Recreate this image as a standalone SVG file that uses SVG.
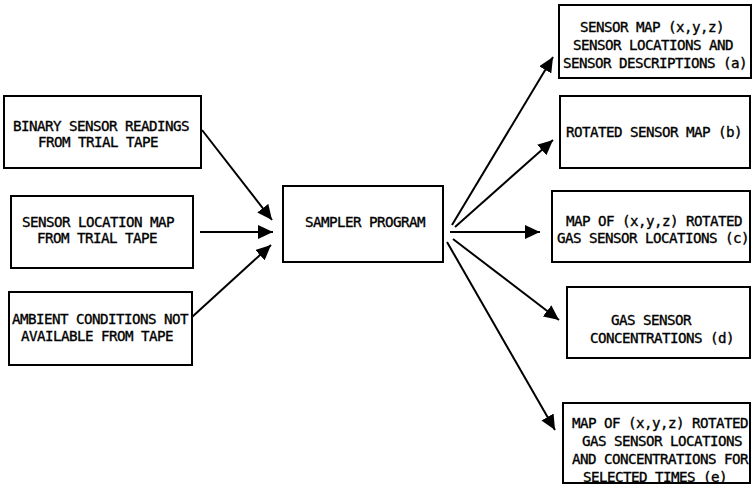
<svg xmlns="http://www.w3.org/2000/svg" width="752" height="485" viewBox="0 0 752 485">
<style>
.box{fill:#fff;stroke:#000;stroke-width:2}
.t{font-family:"DejaVu Sans Mono","Liberation Mono",monospace;font-size:14.2px;letter-spacing:-0.55px;fill:#000;stroke:#000;stroke-width:0.35;text-anchor:middle}
.c{stroke:#000;stroke-width:2;fill:none;marker-end:url(#ah)}
</style>
<defs>
<marker id="ah" markerUnits="userSpaceOnUse" markerWidth="16" markerHeight="14" refX="15" refY="7" orient="auto">
<path d="M0,0 L15,7 L0,14 Z" fill="#000"/>
</marker>
</defs>
<rect width="752" height="485" fill="#fff"/>
<g id="n-binary">
<rect class="box" x="4" y="96" width="197" height="72"/>
<text class="t" x="101" y="131">BINARY SENSOR READINGS</text>
<text class="t" x="98" y="147">FROM TRIAL TAPE</text>
</g>
<g id="n-location">
<rect class="box" x="11" y="196" width="182" height="72"/>
<text class="t" x="98" y="227">SENSOR LOCATION MAP</text>
<text class="t" x="97" y="243">FROM TRIAL TAPE</text>
</g>
<g id="n-ambient">
<rect class="box" x="9" y="292" width="183" height="73"/>
<text class="t" x="100" y="324">AMBIENT CONDITIONS NOT</text>
<text class="t" x="97" y="341">AVAILABLE FROM TAPE</text>
</g>
<g id="n-sampler">
<rect class="box" x="283" y="186" width="160" height="76"/>
<text class="t" x="365" y="227">SAMPLER PROGRAM</text>
</g>
<g id="n-a">
<rect class="box" x="559" y="5" width="192" height="73"/>
<text class="t" x="652" y="32">SENSOR MAP (x,y,z)</text>
<text class="t" x="653" y="50">SENSOR LOCATIONS AND</text>
<text class="t" x="655" y="68">SENSOR DESCRIPTIONS (a)</text>
</g>
<g id="n-b">
<rect class="box" x="560" y="96" width="190" height="72"/>
<text class="t" x="654" y="137">ROTATED SENSOR MAP (b)</text>
</g>
<g id="n-c">
<rect class="box" x="552" y="191" width="198" height="71"/>
<text class="t" x="654" y="226">MAP OF (x,y,z) ROTATED</text>
<text class="t" x="653" y="243">GAS SENSOR LOCATIONS (c)</text>
</g>
<g id="n-d">
<rect class="box" x="567" y="287" width="183" height="71"/>
<text class="t" x="651" y="325">GAS SENSOR</text>
<text class="t" x="662" y="343">CONCENTRATIONS (d)</text>
</g>
<g id="n-e">
<rect class="box" x="563" y="403" width="187" height="80"/>
<text class="t" x="660" y="428">MAP OF (x,y,z) ROTATED</text>
<text class="t" x="662" y="446">GAS SENSOR LOCATIONS</text>
<text class="t" x="660" y="464">AND CONCENTRATIONS FOR</text>
<text class="t" x="655" y="482">SELECTED TIMES (e)</text>
</g>
<g id="connectors">
<line class="c" x1="202" y1="130" x2="272" y2="220"/>
<line class="c" x1="200" y1="232" x2="273" y2="232"/>
<line class="c" x1="192" y1="317" x2="271" y2="245"/>
<line class="c" x1="452" y1="225" x2="553" y2="57"/>
<line class="c" x1="455" y1="227" x2="553" y2="140"/>
<line class="c" x1="450" y1="232" x2="540" y2="232"/>
<line class="c" x1="453" y1="239" x2="559" y2="320"/>
<line class="c" x1="447" y1="242" x2="555" y2="430"/>
</g>
</svg>
